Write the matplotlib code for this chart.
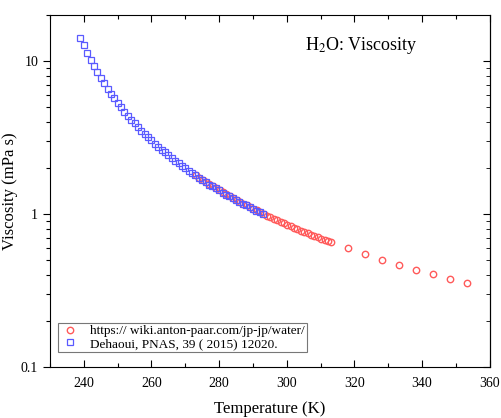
import numpy as np
import matplotlib
matplotlib.use("Agg")
import matplotlib.pyplot as plt
from matplotlib.ticker import FixedLocator, LogLocator, NullFormatter, MultipleLocator

plt.rcParams['font.family'] = ['Liberation Serif', 'DejaVu Serif']
plt.rcParams['mathtext.fontset'] = 'stix'

# anton-paar table: 0..40 C every 1 C, then 45..80 C every 5 C
red_T_C = list(range(0, 41)) + [45, 50, 55, 60, 65, 70, 75, 80]
red_visc = [1.7914, 1.7311, 1.6728, 1.6191, 1.5674, 1.5188, 1.4728, 1.4284, 1.3860, 1.3462,
            1.3059, 1.2714, 1.2363, 1.2028, 1.1709, 1.1404, 1.1111, 1.0828, 1.0559, 1.0299,
            1.0016, 0.9775, 0.9544, 0.9321, 0.9107, 0.8900, 0.8701, 0.8509, 0.8324, 0.8145,
            0.7972, 0.7805, 0.7644, 0.7488, 0.7337, 0.7191, 0.7050, 0.6913, 0.6780, 0.6652,
            0.6527, 0.5958, 0.5465, 0.5036, 0.4660, 0.4329, 0.4035, 0.3774, 0.3540]
red_T = [t + 273.15 for t in red_T_C]

# Dehaoui et al. supercooled water, 239..293 K
blue_T = list(range(239, 294))
blue_visc = [14.26, 12.67, 11.35, 10.23, 9.28, 8.46, 7.76, 7.14, 6.60, 6.12,
             5.70, 5.32, 4.98, 4.67, 4.40, 4.15, 3.92, 3.71, 3.51, 3.34,
             3.18, 3.03, 2.89, 2.76, 2.64, 2.53, 2.42, 2.32, 2.23, 2.15,
             2.07, 1.99, 1.92, 1.85, 1.79, 1.73, 1.67, 1.62, 1.56, 1.52,
             1.47, 1.43, 1.38, 1.34, 1.31, 1.27, 1.23, 1.20, 1.17, 1.14,
             1.11, 1.08, 1.05, 1.03, 1.00]

fig = plt.figure(figsize=(5.02, 4.18), dpi=100)
ax = fig.add_axes([0.0996, 0.122, 0.876, 0.842])

ax.plot(red_T, red_visc, 'o', mfc='none', mec='#ff5a5a', ms=4.6, mew=1.0,
        label="https:// wiki.anton-paar.com/jp-jp/water/")
ax.plot(blue_T, blue_visc, 's', mfc='none', mec='#5a5aff', ms=4.4, mew=0.9,
        label="Dehaoui, PNAS, 39 ( 2015) 12020.")

ax.set_yscale('log')
ax.set_xlim(230, 360)
ax.set_ylim(0.1, 20)
ax.xaxis.set_major_locator(MultipleLocator(20))
ax.xaxis.set_minor_locator(MultipleLocator(10))
ax.yaxis.set_major_locator(FixedLocator([0.1, 1, 10]))
ax.yaxis.set_major_formatter(plt.FuncFormatter(lambda v, p: f"{v:g}"))
ax.yaxis.set_minor_locator(LogLocator(base=10, subs=np.arange(2, 10)))
ax.yaxis.set_minor_formatter(NullFormatter())

ax.tick_params(axis='x', which='both', direction='in', top=True, labelsize=10, pad=7)
ax.tick_params(axis='y', which='both', direction='out', labelsize=10)
ax.tick_params(which='major', length=5, width=0.8)
ax.tick_params(which='minor', length=3, width=0.8)

# right side ticks point inward
ax2 = ax.secondary_yaxis('right')
ax2.yaxis.set_major_locator(FixedLocator([0.1, 1, 10]))
ax2.yaxis.set_minor_locator(LogLocator(base=10, subs=np.arange(2, 10)))
ax2.yaxis.set_major_formatter(NullFormatter())
ax2.yaxis.set_minor_formatter(NullFormatter())
ax2.tick_params(which='both', direction='in')
ax2.tick_params(which='major', length=5)
ax2.tick_params(which='minor', length=3)

ax.set_xlabel("Temperature (K)", fontsize=12, labelpad=8)
ax.set_ylabel("Viscosity (mPa s)", fontsize=12)
ax.yaxis.set_label_coords(-0.073, 0.5)

ax.text(0.58, 0.9, r"H$_2$O: Viscosity", transform=ax.transAxes, fontsize=13)

leg = ax.legend(loc='lower left', fontsize=9.5, fancybox=False, edgecolor='#555555',
                handletextpad=0.8, borderpad=0.15, labelspacing=0.05,
                bbox_to_anchor=(0.012, 0.035), handlelength=1.5, borderaxespad=0.2)
leg.get_frame().set_linewidth(0.8)

fig.savefig("out.png", dpi=100)
